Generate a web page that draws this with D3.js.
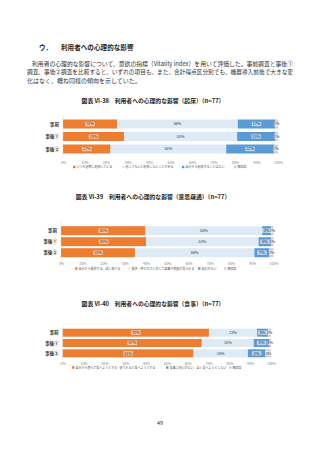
<!DOCTYPE html>
<html>
<head>
<meta charset="utf-8">
<script src="https://cdn.jsdelivr.net/npm/d3@7"></script>
<style>
  html, body { margin: 0; padding: 0; background: #fff; }
  svg { display: block; font-family: "Noto Sans CJK JP", "Noto Sans", sans-serif; }
</style>
</head>
<body>
<svg id="page" width="320" height="453"></svg>
<script>
// ---- データ ----
var categories = ["事前", "事後①", "事後②"];
var tickValues = [0, 10, 20, 30, 40, 50, 60, 70, 80, 90, 100];

var wakeTitle = "図表 VI-38　利用者への心理的な影響（起床）（n=77）";
var wakeSeries = ["いつも定時に起床している", "起こさないと起床しないことがある", "自分から起床することはない", "無回答"];
var wakeValues = [[25.2, 56.1, 17.4, 1.3], [28.4, 52.6, 17.7, 1.3], [22.1, 53.8, 22.2, 1.9]];

var commTitle = "図表 VI-39　利用者への心理的な影響（意思疎通）（n=77）";
var commSeries = ["自分から挨拶する、話し掛ける", "挨拶・呼びかけに対して返事や笑顔が見られる", "反応がない", "無回答"];
var commValues = [[39.8, 54.9, 4.1, 1.2], [40.1, 52.9, 5.8, 1.2], [34.8, 56.2, 7.1, 1.9]];

var mealTitle = "図表 VI-40　利用者への心理的な影響（食事）（n=77）";
var mealSeries = ["自分から進んで食べようとする", "促されると食べようとする", "食事に関心がない、全く食べようとしない", "無回答"];
var mealValues = [[70.2, 23.1, 5.3, 1.4], [66.8, 24.9, 7.6, 0.7], [62.8, 26.1, 8.4, 2.7]];

var colors = ["#ED7D31", "#DEEBF7", "#5B9BD5", "#D0D0D0"];

// ---- レイアウト ----
var svg = d3.select("#page");

svg.append("text").attr("x", 39).attr("y", 49.5)
  .attr("font-size", 6.6).attr("font-weight", "bold").attr("fill", "#222")
  .text("ウ．");
svg.append("text").attr("x", 61).attr("y", 49.5)
  .attr("font-size", 6.6).attr("font-weight", "bold").attr("fill", "#222")
  .text("利用者への心理的な影響");

var bodyLines = [
  {x: 32, y: 66, t: "利用者の心理的な影響について、意欲の指標（Vitality index）を用いて評価した。事前調査と事後①"},
  {x: 27, y: 74.3, t: "調査、事後②調査を比較すると、いずれの項目も、また、合計得点区分別でも、機器導入前後で大きな変"},
  {x: 27, y: 82.6, t: "化はなく、概ね同様の傾向を示していた。"}
];
bodyLines.forEach(function (l, i) {
  var t = svg.append("text").attr("x", l.x).attr("y", l.y)
    .attr("font-size", 6.0).attr("fill", "#333").text(l.t);
  if (i < 2) t.attr("textLength", 293 - l.x).attr("lengthAdjust", "spacingAndGlyphs");
});

svg.append("text").attr("x", 160).attr("y", 425)
  .attr("text-anchor", "middle").attr("font-size", 5.5).attr("fill", "#333").text("49");

var charts = [
  {title: wakeTitle, series: wakeSeries, values: wakeValues, titleY: 103,
   x0: 63, x1: 278, yr: [124, 149], bh: 9, tickY: 161.5, legendY: 167,
   legendX: [73, 122, 182, 234]},
  {title: commTitle, series: commSeries, values: commValues, titleY: 199,
   x0: 61, x1: 273.5, yr: [230.7, 252.7], bh: 9, tickY: 262.5, legendY: 268.5,
   legendX: [75, 128, 198, 224]},
  {title: mealTitle, series: mealSeries, values: mealValues, titleY: 306,
   x0: 62.7, x1: 271, yr: [332.7, 353.3], bh: 8, tickY: 362, legendY: 367.5,
   legendX: [72, 116, 166, 229]}
];

charts.forEach(drawChart);

function drawChart(c) {
  var x = d3.scaleLinear().domain([0, 100]).range([c.x0, c.x1]);
  var y = d3.scalePoint().domain(categories).range(c.yr);

  svg.append("text").attr("x", 153).attr("y", c.titleY)
    .attr("text-anchor", "middle").attr("font-size", 5.8).attr("font-weight", "bold")
    .attr("fill", "#222").text(c.title);

  var g = svg.append("g");

  // 積み上げデータ
  var rows = c.values.map(function (vals, i) {
    var acc = 0;
    return vals.map(function (v, j) {
      var seg = {cat: categories[i], s: j, v: v, a: acc, b: acc + v};
      acc += v;
      return seg;
    });
  });
  var segs = d3.merge(rows);

  g.selectAll("rect.seg").data(segs).enter().append("rect")
    .attr("class", "seg")
    .attr("x", function (d) { return x(d.a); })
    .attr("width", function (d) { return x(d.b) - x(d.a); })
    .attr("y", function (d) { return y(d.cat) - c.bh / 2; })
    .attr("height", c.bh)
    .attr("fill", function (d) { return colors[d.s]; });

  // 軸線
  g.append("line").attr("x1", c.x0).attr("x2", c.x0)
    .attr("y1", c.yr[0] - c.bh).attr("y2", c.yr[1] + c.bh)
    .attr("stroke", "#ccc").attr("stroke-width", 0.4);

  // データラベル
  var lbl = g.selectAll("g.lbl").data(segs).enter().append("g")
    .attr("class", "lbl")
    .attr("transform", function (d) {
      return "translate(" + x((d.a + d.b) / 2) + "," + y(d.cat) + ")";
    });
  lbl.append("rect")
    .attr("x", function (d) { return d.v < 3 ? -2.8 : -4.8; })
    .attr("width", function (d) { return d.v < 3 ? 5.6 : 9.6; })
    .attr("y", -2.2).attr("height", 4.4)
    .attr("fill", function (d) { return d.s === 1 ? "none" : "#fff"; })
    .attr("fill-opacity", 0.55);
  lbl.append("text")
    .attr("text-anchor", "middle").attr("dy", "0.35em")
    .attr("font-size", 3.8).attr("fill", "#333")
    .text(function (d) { return Math.round(d.v) + "%"; });

  // カテゴリ
  g.selectAll("text.cat").data(categories).enter().append("text")
    .attr("class", "cat")
    .attr("x", c.x0 - 4).attr("y", function (d) { return y(d); })
    .attr("dy", "0.35em").attr("text-anchor", "end")
    .attr("font-size", 4.6).attr("font-weight", "bold").attr("fill", "#333")
    .text(function (d) { return d; });

  // 目盛
  var axis = d3.axisBottom(x).tickValues(tickValues).tickSize(0)
    .tickFormat(function (d) { return d + "%"; });
  var ax = svg.append("g").attr("transform", "translate(0," + (c.tickY - 2.5) + ")").call(axis);
  ax.select(".domain").remove();
  ax.selectAll("text").attr("font-size", 3.5).attr("fill", "#888")
    .attr("font-family", "\"Noto Sans CJK JP\", sans-serif");

  // 凡例
  var leg = svg.selectAll(null).data(c.series).enter().append("g")
    .attr("transform", function (d, i) { return "translate(" + c.legendX[i] + "," + c.legendY + ")"; });
  leg.append("rect").attr("x", 0).attr("y", -1.2).attr("width", 2.4).attr("height", 2.4)
    .attr("fill", function (d, i) { return colors[i]; });
  leg.append("text").attr("x", 3.4).attr("dy", "0.35em")
    .attr("font-size", 3.0).attr("fill", "#555")
    .text(function (d) { return d; });
}
</script>
</body>
</html>
